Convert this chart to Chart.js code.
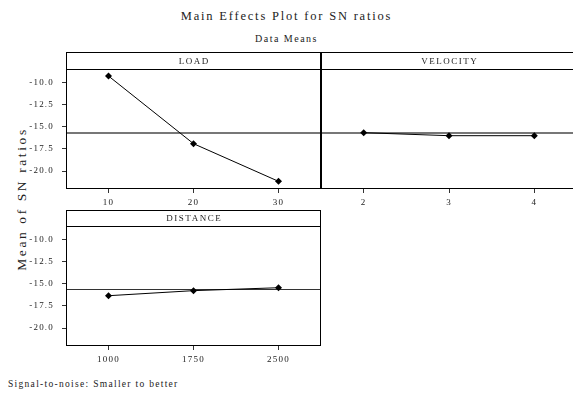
<!DOCTYPE html>
<html><head><meta charset="utf-8">
<script src="https://cdn.jsdelivr.net/npm/chart.js@4.4.1/dist/chart.umd.min.js"></script>
<style>
html,body{margin:0;padding:0;background:#fff;}
body{width:573px;height:398px;position:relative;overflow:hidden;font-family:"Liberation Serif",serif;color:#222;}
canvas{position:absolute;}
.t{position:absolute;white-space:nowrap;}
</style></head><body>
<div class="t" style="left:0;width:573px;top:9px;text-align:center;font-size:12.5px;letter-spacing:1.8px">Main Effects Plot for SN ratios</div>
<div class="t" style="left:0;width:573px;top:33px;text-align:center;font-size:10px;letter-spacing:1.5px">Data Means</div>
<div class="t" style="left:22px;top:199px;font-size:13.5px;letter-spacing:2.6px;transform:translate(-50%,-50%) rotate(-90deg)">Mean of SN ratios</div>
<div class="t" style="left:8px;top:379px;font-size:9.5px;letter-spacing:1.3px">Signal-to-noise: Smaller to better</div>
<canvas id="c0" width="321" height="158" style="left:0;top:52px"></canvas>
<canvas id="c1" width="256" height="158" style="left:321px;top:52px"></canvas>
<canvas id="c2" width="321" height="158" style="left:0;top:210px"></canvas>
<script>
// ---- data ----
const panelNames = ['LOAD', 'VELOCITY', 'DISTANCE'];
const loadLevels = ['10', '20', '30'];
const velocityLevels = ['2', '3', '4'];
const distanceLevels = ['1000', '1750', '2500'];
const loadSN = [-9.29, -16.91, -21.15];
const velocitySN = [-15.67, -16.01, -16.01];
const distanceSN = [-16.35, -15.78, -15.45];
const grandMean = -15.7;
const yTicks = [-10, -12.5, -15, -17.5, -20];
const yRange = [-21.9, -8.5];

const FONT = '"Liberation Serif", serif';

const panelPlugin = {
  id: 'panelFrame',
  beforeDraw(chart) {
    chart.ctx.letterSpacing = '1.2px';
  },
  beforeDatasetsDraw(chart, args, o) {
    const ctx = chart.ctx, ca = chart.chartArea;
    const y = chart.scales.y.getPixelForValue(grandMean);
    ctx.save();
    ctx.fillStyle = o.meanColor;
    ctx.fillRect(ca.left, Math.round(y - o.meanWidth / 2), ca.right - ca.left, o.meanWidth);
    ctx.restore();
  },
  afterDraw(chart, args, o) {
    const ctx = chart.ctx, ca = chart.chartArea;
    const top = ca.top - o.headerH;
    ctx.save();
    ctx.fillStyle = '#000';
    const w = ca.right - ca.left;
    ctx.fillRect(ca.left, top, w, 1);
    ctx.fillRect(ca.left, ca.top, w, 1);
    ctx.fillRect(ca.left, ca.bottom, w, 1);
    ctx.fillRect(ca.left, top, 1, ca.bottom - top + 1);
    ctx.fillRect(ca.right - 1, top, 1, ca.bottom - top + 1);
    ctx.letterSpacing = '1.5px';
    ctx.font = '9px ' + FONT;
    ctx.fillStyle = '#222';
    ctx.textAlign = 'center';
    ctx.textBaseline = 'middle';
    ctx.fillText(o.name, (ca.left + ca.right) / 2 + 0.75, top + o.headerH / 2 + 1);
    ctx.restore();
  }
};

function makePanel(id, labels, values, name, showY, xAxisH, headerH, meanColor, meanWidth) {
  return new Chart(document.getElementById(id), {
    type: 'line',
    data: {
      labels: labels,
      datasets: [{
        data: values,
        borderColor: '#000',
        borderWidth: 1,
        pointStyle: 'rectRot',
        pointRadius: 3.5,
        pointBackgroundColor: '#000',
        pointBorderColor: '#000',
        pointBorderWidth: 0,
        tension: 0,
        clip: false
      }]
    },
    options: {
      responsive: false,
      animation: false,
      devicePixelRatio: 1,
      layout: { autoPadding: false, padding: { top: headerH, left: 0, right: 0, bottom: 0 } },
      plugins: {
        legend: { display: false },
        tooltip: { enabled: false },
        panelFrame: { name: name, headerH: headerH, meanColor: meanColor, meanWidth: meanWidth }
      },
      scales: {
        x: {
          type: 'category',
          offset: true,
          grid: { display: true, drawOnChartArea: false, drawTicks: true, tickLength: 5, color: '#333', lineWidth: 1 },
          border: { display: false },
          ticks: { color: '#222', font: { family: FONT, size: 9 }, padding: 4, maxRotation: 0 },
          afterFit: s => { s.height = xAxisH; s.paddingLeft = 0; s.paddingRight = 0; }
        },
        y: {
          type: 'linear',
          display: showY,
          min: yRange[0],
          max: yRange[1],
          afterBuildTicks: s => { s.ticks = yTicks.map(v => ({ value: v })); },
          afterFit: s => { s.width = showY ? 66 : 0; s.paddingTop = 0; s.paddingBottom = 0; },
          grid: { display: true, drawOnChartArea: false, drawTicks: true, tickLength: 4, color: '#333', lineWidth: 1 },
          border: { display: false },
          ticks: { color: '#222', font: { family: FONT, size: 9 }, padding: 8, callback: v => Number(v).toFixed(1) }
        }
      }
    },
    plugins: [panelPlugin]
  });
}

makePanel('c0', loadLevels, loadSN, panelNames[0], true, 22, 17, '#777', 2);
makePanel('c1', velocityLevels, velocitySN, panelNames[1], false, 22, 17, '#777', 2);
makePanel('c2', distanceLevels, distanceSN, panelNames[2], true, 23, 16, '#333', 1);
</script>
</body></html>
